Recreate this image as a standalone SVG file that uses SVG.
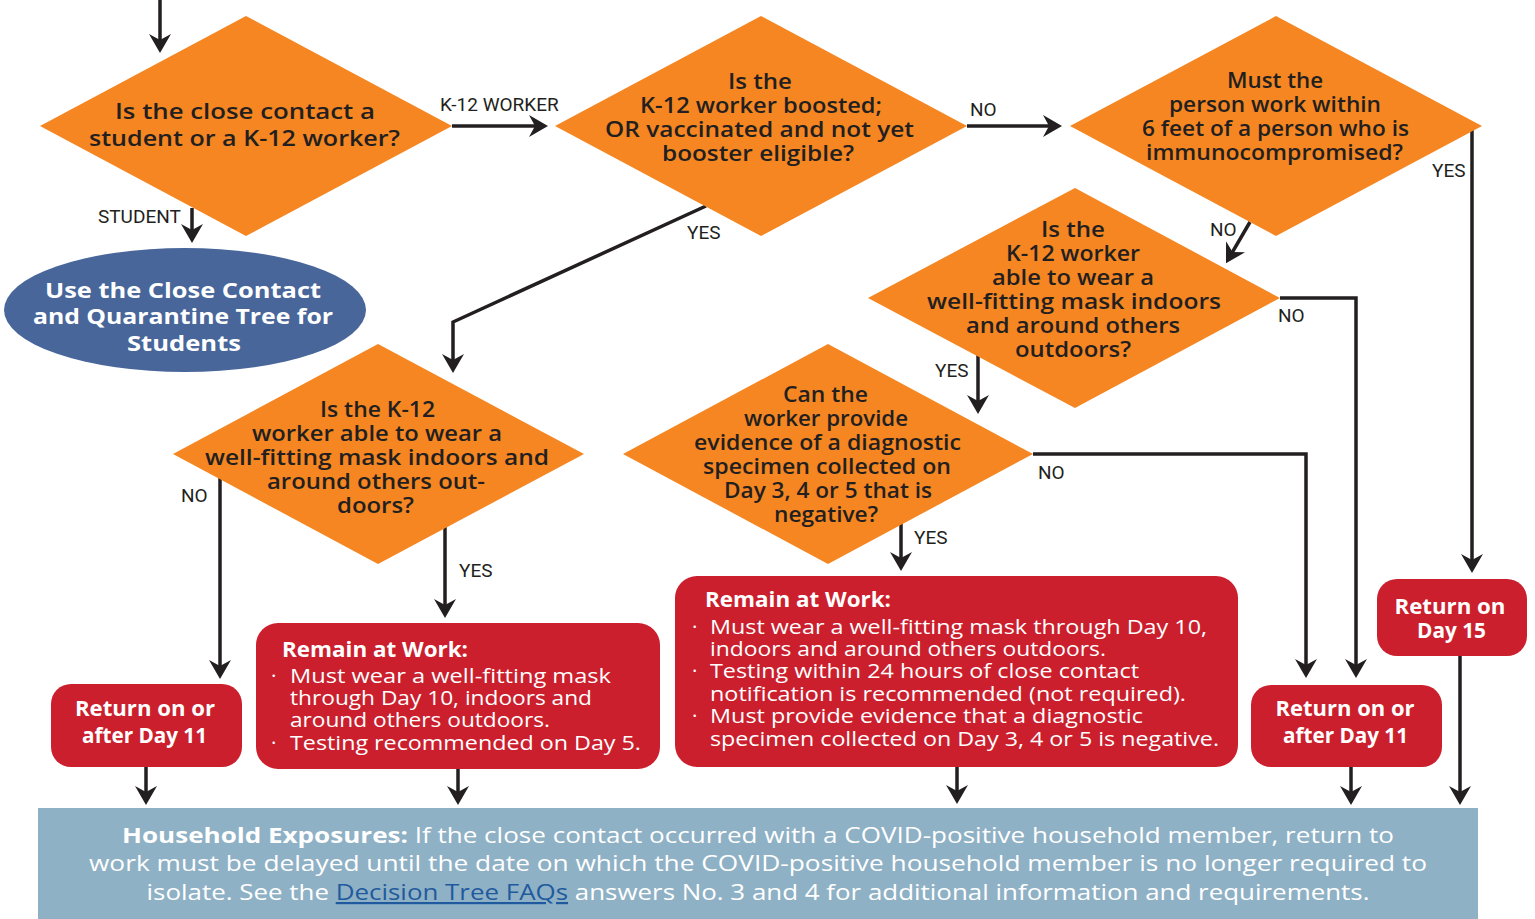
<svg xmlns="http://www.w3.org/2000/svg" width="1535" height="919" viewBox="0 0 1535 919">
<style>
.dia{fill:#f58621}
.box{fill:#cb1f2e}
.q{font-family:"Open Sans","Noto Sans",sans-serif;font-weight:600;font-size:22px;fill:#231f20;text-anchor:middle}
.lbl{font-family:Roboto,"Liberation Sans",sans-serif;font-size:19px;fill:#231f20}
.bt{font-family:"Open Sans","Noto Sans",sans-serif;font-weight:700;font-size:21px;fill:#fff;text-anchor:middle}
.hd{font-family:"Open Sans","Noto Sans",sans-serif;font-weight:700;font-size:21px;fill:#fff}
.tx{font-family:"Open Sans","Noto Sans",sans-serif;font-weight:400;font-size:20.5px;fill:#fff}
.ft{font-family:"Open Sans","Noto Sans",sans-serif;font-weight:400;font-size:22px;fill:#fff;text-anchor:middle}
.con{fill:none;stroke:#231f20;stroke-width:3.5;marker-end:url(#ah)}
</style>
<defs>
<marker id="ah" markerUnits="userSpaceOnUse" viewBox="-20 -12 28 24" refX="0" refY="0" markerWidth="28" markerHeight="24" orient="auto">
<path d="M6,0 L-13,-11 L-7,0 L-13,11 Z" fill="#231f20"/>
</marker>
</defs>
<rect width="1535" height="919" fill="#fff"/>
<g id="connectors">
<path class="con" d="M160,0 V47"/>
<path class="con" d="M192,208 V237"/>
<path class="con" d="M452,126 H542"/>
<path class="con" d="M967,126 H1056"/>
<path class="con" d="M706,206 L453,322 V367"/>
<path class="con" d="M1250,222 L1229,258"/>
<path class="con" d="M1472,128 V567"/>
<path class="con" d="M1280,298 H1356 V672"/>
<path class="con" d="M978,350 V408"/>
<path class="con" d="M220,475 V673"/>
<path class="con" d="M445,525 V612"/>
<path class="con" d="M1033,454 H1306 V672"/>
<path class="con" d="M901,522 V565"/>
<path class="con" d="M146,767 V799"/>
<path class="con" d="M458,769 V799"/>
<path class="con" d="M957,767 V798"/>
<path class="con" d="M1351,767 V799"/>
<path class="con" d="M1460,656 V799"/>
<text class="lbl" x="440" y="111">K-12 WORKER</text>
<text class="lbl" x="970" y="116">NO</text>
<text class="lbl" x="98" y="223">STUDENT</text>
<text class="lbl" x="687" y="239">YES</text>
<text class="lbl" x="1432" y="177">YES</text>
<text class="lbl" x="1210" y="236">NO</text>
<text class="lbl" x="1278" y="322">NO</text>
<text class="lbl" x="935" y="377">YES</text>
<text class="lbl" x="181" y="502">NO</text>
<text class="lbl" x="459" y="577">YES</text>
<text class="lbl" x="1038" y="479">NO</text>
<text class="lbl" x="914" y="544">YES</text>
</g>
<g id="d1">
<polygon class="dia" points="246,16 452,126 246,236 40,126"/>
<text class="q" font-size="24" x="245" y="119" textLength="260" lengthAdjust="spacingAndGlyphs">Is the close contact a</text>
<text class="q" font-size="24" x="244.5" y="146" textLength="311" lengthAdjust="spacingAndGlyphs">student or a K-12 worker?</text>
</g>
<g id="students">
<ellipse cx="185" cy="310" rx="181" ry="62" fill="#48669a"/>
<text class="bt" font-size="24" x="183" y="298" textLength="276" lengthAdjust="spacingAndGlyphs">Use the Close Contact</text>
<text class="bt" font-size="24" x="183" y="324" textLength="300" lengthAdjust="spacingAndGlyphs">and Quarantine Tree for</text>
<text class="bt" font-size="24" x="184" y="351" textLength="114" lengthAdjust="spacingAndGlyphs">Students</text>
</g>
<g id="d2">
<polygon class="dia" points="761,16 967,126 761,236 555,126"/>
<text class="q" x="760" y="89" textLength="64" lengthAdjust="spacingAndGlyphs">Is the</text>
<text class="q" x="761" y="113" textLength="242" lengthAdjust="spacingAndGlyphs">K-12 worker boosted;</text>
<text class="q" x="759.5" y="137" textLength="309" lengthAdjust="spacingAndGlyphs">OR vaccinated and not yet</text>
<text class="q" x="758" y="161" textLength="192" lengthAdjust="spacingAndGlyphs">booster eligible?</text>
</g>
<g id="d3">
<polygon class="dia" points="1276,16 1482,126 1276,236 1070,126"/>
<text class="q" x="1275" y="88" textLength="96" lengthAdjust="spacingAndGlyphs">Must the</text>
<text class="q" x="1275" y="112" textLength="212" lengthAdjust="spacingAndGlyphs">person work within</text>
<text class="q" x="1275.5" y="136" textLength="267" lengthAdjust="spacingAndGlyphs">6 feet of a person who is</text>
<text class="q" x="1274.5" y="160" textLength="257" lengthAdjust="spacingAndGlyphs">immunocompromised?</text>
</g>
<g id="d4">
<polygon class="dia" points="1075,188 1280,298 1075,408 868,298"/>
<text class="q" x="1073" y="237" textLength="64" lengthAdjust="spacingAndGlyphs">Is the</text>
<text class="q" x="1073" y="261" textLength="134" lengthAdjust="spacingAndGlyphs">K-12 worker</text>
<text class="q" x="1073" y="285" textLength="162" lengthAdjust="spacingAndGlyphs">able to wear a</text>
<text class="q" x="1074" y="309" textLength="294" lengthAdjust="spacingAndGlyphs">well-fitting mask indoors</text>
<text class="q" x="1073" y="333" textLength="214" lengthAdjust="spacingAndGlyphs">and around others</text>
<text class="q" x="1073" y="357" textLength="116" lengthAdjust="spacingAndGlyphs">outdoors?</text>
</g>
<g id="d5">
<polygon class="dia" points="378,344 584,454 378,564 173,454"/>
<text class="q" x="377.5" y="417" textLength="115" lengthAdjust="spacingAndGlyphs">Is the K-12</text>
<text class="q" x="377" y="441" textLength="250" lengthAdjust="spacingAndGlyphs">worker able to wear a</text>
<text class="q" x="377" y="465" textLength="344" lengthAdjust="spacingAndGlyphs">well-fitting mask indoors and</text>
<text class="q" x="376" y="489" textLength="218" lengthAdjust="spacingAndGlyphs">around others out-</text>
<text class="q" x="375.5" y="513" textLength="77" lengthAdjust="spacingAndGlyphs">doors?</text>
</g>
<g id="d6">
<polygon class="dia" points="828,344 1033,454 828,564 623,454"/>
<text class="q" x="825.5" y="402" textLength="85" lengthAdjust="spacingAndGlyphs">Can the</text>
<text class="q" x="826" y="426" textLength="164" lengthAdjust="spacingAndGlyphs">worker provide</text>
<text class="q" x="827.5" y="450" textLength="267" lengthAdjust="spacingAndGlyphs">evidence of a diagnostic</text>
<text class="q" x="827" y="474" textLength="248" lengthAdjust="spacingAndGlyphs">specimen collected on</text>
<text class="q" x="828" y="498" textLength="208" lengthAdjust="spacingAndGlyphs">Day 3, 4 or 5 that is</text>
<text class="q" x="826" y="522" textLength="104" lengthAdjust="spacingAndGlyphs">negative?</text>
</g>
<g id="ret11a">
<rect class="box" x="51" y="684" width="191" height="83" rx="20"/>
<text class="bt" x="145" y="716" textLength="140" lengthAdjust="spacingAndGlyphs">Return on or</text>
<text class="bt" x="144.5" y="743" textLength="125" lengthAdjust="spacingAndGlyphs">after Day 11</text>
</g>
<g id="remain1">
<rect class="box" x="256" y="623" width="404" height="146" rx="22"/>
<text class="hd" x="282" y="657" textLength="186" lengthAdjust="spacingAndGlyphs">Remain at Work:</text>
<text class="tx" x="271" y="683">·</text>
<text class="tx" x="290" y="683" textLength="321" lengthAdjust="spacingAndGlyphs">Must wear a well-fitting mask</text>
<text class="tx" x="290" y="705" textLength="302" lengthAdjust="spacingAndGlyphs">through Day 10, indoors and</text>
<text class="tx" x="290" y="727" textLength="260" lengthAdjust="spacingAndGlyphs">around others outdoors.</text>
<text class="tx" x="271" y="750">·</text>
<text class="tx" x="290" y="750" textLength="351" lengthAdjust="spacingAndGlyphs">Testing recommended on Day 5.</text>
</g>
<g id="remain2">
<rect class="box" x="675" y="576" width="563" height="191" rx="22"/>
<text class="hd" x="705" y="607" textLength="186" lengthAdjust="spacingAndGlyphs">Remain at Work:</text>
<text class="tx" x="692" y="634">·</text>
<text class="tx" x="710" y="634" textLength="497" lengthAdjust="spacingAndGlyphs">Must wear a well-fitting mask through Day 10,</text>
<text class="tx" x="710" y="656" textLength="396" lengthAdjust="spacingAndGlyphs">indoors and around others outdoors.</text>
<text class="tx" x="692" y="678">·</text>
<text class="tx" x="710" y="678" textLength="429" lengthAdjust="spacingAndGlyphs">Testing within 24 hours of close contact</text>
<text class="tx" x="710" y="701" textLength="476" lengthAdjust="spacingAndGlyphs">notification is recommended (not required).</text>
<text class="tx" x="692" y="723">·</text>
<text class="tx" x="710" y="723" textLength="433" lengthAdjust="spacingAndGlyphs">Must provide evidence that a diagnostic</text>
<text class="tx" x="710" y="746" textLength="509" lengthAdjust="spacingAndGlyphs">specimen collected on Day 3, 4 or 5 is negative.</text>
</g>
<g id="ret11b">
<rect class="box" x="1251" y="685" width="191" height="82" rx="20"/>
<text class="bt" x="1345" y="716" textLength="139" lengthAdjust="spacingAndGlyphs">Return on or</text>
<text class="bt" x="1345.5" y="743" textLength="125" lengthAdjust="spacingAndGlyphs">after Day 11</text>
</g>
<g id="ret15">
<rect class="box" x="1377" y="579" width="150" height="77" rx="20"/>
<text class="bt" x="1450" y="614" textLength="111" lengthAdjust="spacingAndGlyphs">Return on</text>
<text class="bt" x="1451.5" y="638" textLength="69" lengthAdjust="spacingAndGlyphs">Day 15</text>
</g>
<g id="footer">
<rect x="38" y="808" width="1440" height="111" fill="#8fb1c5"/>
<text class="ft" x="758" y="843" textLength="1272" lengthAdjust="spacingAndGlyphs"><tspan font-weight="700">Household Exposures:</tspan> If the close contact occurred with a COVID-positive household member, return to</text>
<text class="ft" x="758" y="871" textLength="1338" lengthAdjust="spacingAndGlyphs">work must be delayed until the date on which the COVID-positive household member is no longer required to</text>
<text class="ft" x="758" y="900" textLength="1223" lengthAdjust="spacingAndGlyphs">isolate. See the <tspan fill="#1f5a9e" text-decoration="underline">Decision Tree FAQs</tspan> answers No. 3 and 4 for additional information and requirements.</text>
</g>
</svg>
